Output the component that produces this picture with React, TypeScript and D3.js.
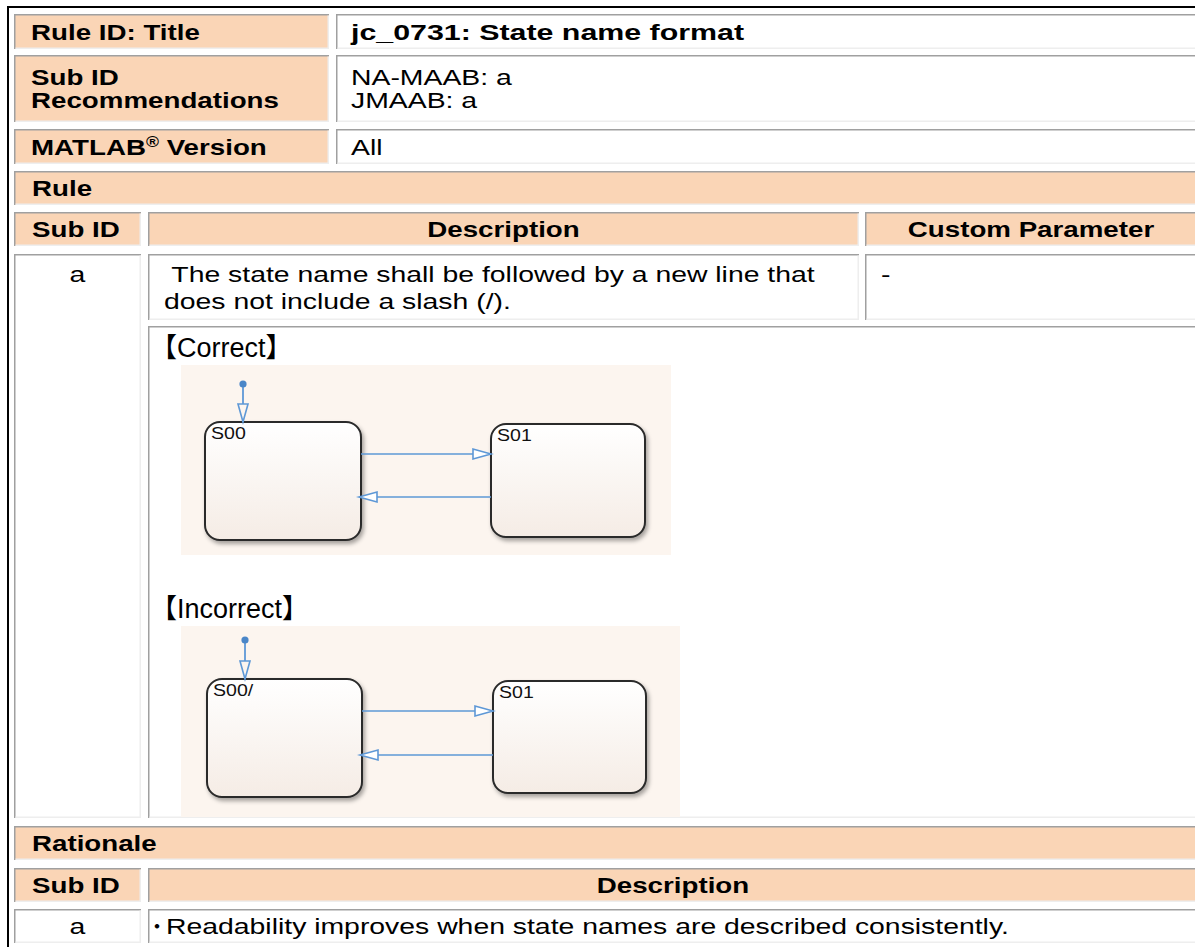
import React from 'react';
import * as d3 from 'd3';

// ---- content ----
const headerLabels: string[][] = [['Rule ID: Title'], ['Sub ID', 'Recommendations'], ['MATLAB® Version']];
const headerValues: string[][] = [['jc_0731: State name format'], ['NA-MAAB: a', 'JMAAB: a'], ['All']];
const sectionTitles = ['Rule', 'Rationale'];
const ruleColumns = ['Sub ID', 'Description', 'Custom Parameter'];
const ruleSubIds = ['a'];
const ruleDescriptions: string[][] = [[' The state name shall be followed by a new line that', 'does not include a slash (/).']];
const ruleParams = ['-'];
const exampleLabels = ['【Correct】', '【Incorrect】'];
const exampleStates: string[][] = [['S00', 'S01'], ['S00/', 'S01']];
const rationaleColumns = ['Sub ID', 'Description'];
const rationaleSubIds = ['a'];
const rationaleBullet = '・';
const rationaleTexts = ['Readability improves when state names are described consistently.'];

// ---- styling ----
const W = 1195;
const H = 947;
const FONT = "'Liberation Sans', Arial, 'Noto Sans CJK JP', sans-serif";
const PEACH = '#fad5b6';
const DARK = '#a0a0a0';
const LIGHT = '#eeeeee';
const BLUE = '#5e98d6';
const DIAG_BG = '#fcf5ef';
const FS = 22;

// column edges of the table (left, right of each cell)
const colSub = [14, 141];
const colDesc = [148, 859];
const colParam = [865, 1200];
const colHeadL = [14, 329];
const colHeadR = [336, 1200];
const full = [14, 1200];

type CellProps = { x0: number; y0: number; x1: number; y1: number; fill?: string };
const Cell = ({ x0, y0, x1, y1, fill = '#fff' }: CellProps) => (
  <g>
    <rect x={x0} y={y0} width={x1 - x0} height={y1 - y0} fill={fill} />
    <path d={`M${x0 + 0.75},${y1} V${y0 + 0.75} H${x1}`} stroke={DARK} strokeWidth={1.5} fill="none" />
    <path d={`M${x0 + 1.5},${y1 - 0.75} H${x1 - 0.75} V${y0 + 1.5}`} stroke={LIGHT} strokeWidth={1.5} fill="none" />
  </g>
);

type TxtProps = {
  x: number; y: number; children: React.ReactNode; bold?: boolean;
  anchor?: string; size?: number; sx?: number; family?: string; fill?: string
};
const Txt = ({ x, y, children, bold = false, anchor = 'start', size = FS, sx, family = FONT, fill = '#000' }: TxtProps) => (
  <text
    transform={`translate(${x},${y}) scale(${sx ?? (bold ? 1.26 : 1.29)},1)`}
    fontFamily={family}
    fontSize={size}
    fontWeight={bold ? 'bold' : 'normal'}
    textAnchor={anchor}
    fill={fill}
    style={{ whiteSpace: 'pre' }}
  >
    {children}
  </text>
);

// renders "®" as a superscript
const withReg = (s: string) => {
  const parts = s.split('®');
  if (parts.length < 2) return s;
  return (
    <>
      {parts[0]}
      <tspan fontSize={14} dy={-8}>®</tspan>
      <tspan dy={8}>{parts[1]}</tspan>
    </>
  );
};

// diagram geometry (relative to its background)
const diagramLayout = [
  { x: 181, y: 365, w: 490, h: 190, boxes: [[24, 57, 156, 118], [310, 59, 154, 113]], dot: [62, 19], arrowY: [89, 132] },
  { x: 181, y: 626, w: 499, h: 191, boxes: [[26, 53, 155, 118], [312, 55, 153, 112]], dot: [64, 14], arrowY: [85, 129] },
];

const line = d3.line<[number, number]>();

const head = (tx: number, ty: number, dir: 'right' | 'left' | 'down') => {
  const L = 18, hw = 5;
  const p = d3.path();
  if (dir === 'right') { p.moveTo(tx, ty); p.lineTo(tx - L, ty - hw); p.lineTo(tx - L, ty + hw); }
  if (dir === 'left') { p.moveTo(tx, ty); p.lineTo(tx + L, ty - hw); p.lineTo(tx + L, ty + hw); }
  if (dir === 'down') { p.moveTo(tx, ty); p.lineTo(tx - hw, ty - L); p.lineTo(tx + hw, ty - L); }
  p.closePath();
  return p.toString();
};

const Diagram = ({ idx }: { idx: number }) => {
  const lay = diagramLayout[idx];
  const names = exampleStates[idx];
  const [b0, b1] = lay.boxes.map(([bx, by, bw, bh]) => ({ x: lay.x + bx, y: lay.y + by, w: bw, h: bh }));
  const dx = lay.x + lay.dot[0];
  const dy = lay.y + lay.dot[1];
  const a1 = lay.y + lay.arrowY[0];
  const a2 = lay.y + lay.arrowY[1];
  return (
    <g>
      <rect x={lay.x} y={lay.y} width={lay.w} height={lay.h} fill={DIAG_BG} />
      {[b0, b1].map((b, i) => (
        <g key={i}>
          <rect x={b.x} y={b.y} width={b.w} height={b.h} rx={15} fill="url(#stateFill)" stroke="#2a2a2a" strokeWidth={2} filter="url(#shadow)" />
          <Txt x={b.x + 6} y={b.y + 17} size={17} sx={1.15} fill="#111">{names[i]}</Txt>
        </g>
      ))}
      {/* initial transition */}
      <path d={line([[dx, dy], [dx, b0.y]]) ?? ''} stroke={BLUE} strokeWidth={1.8} fill="none" />
      <circle cx={dx} cy={dy} r={3.6} fill="#4a86c8" />
      <path d={head(dx, b0.y, 'down')} stroke={BLUE} strokeWidth={1.6} fill={DIAG_BG} />
      {/* S00 -> S01 */}
      <path d={line([[b0.x + b0.w, a1], [b1.x, a1]]) ?? ''} stroke={BLUE} strokeWidth={1.6} fill="none" />
      <path d={head(b1.x, a1, 'right')} stroke={BLUE} strokeWidth={1.6} fill="#fff" />
      {/* S01 -> S00 */}
      <path d={line([[b1.x, a2], [b0.x + b0.w, a2]]) ?? ''} stroke={BLUE} strokeWidth={1.6} fill="none" />
      <path d={head(b0.x + b0.w - 2, a2, 'left')} stroke={BLUE} strokeWidth={1.6} fill="#fff" />
    </g>
  );
};

const App = () => {
  const capHalf = 8;
  const headRows = [[14, 49], [55, 122], [129, 164]];
  const lh = 23;
  const mid = (a: number[]) => (a[0] + a[1]) / 2;

  const lines = (ls: string[], x: number, y0: number, y1: number, bold: boolean, sx?: number) => {
    const c = (y0 + y1) / 2;
    return ls.map((s, i) => (
      <Txt key={i} x={x} y={c + capHalf + (i - (ls.length - 1) / 2) * lh} bold={bold} sx={sx}>
        {withReg(s)}
      </Txt>
    ));
  };

  return (
    <svg width={W} height={H} style={{ position: 'absolute', left: 0, top: 0, background: '#fff' }}>
      <defs>
        <linearGradient id="stateFill" x1="0" y1="0" x2="0" y2="1">
          <stop offset="0" stopColor="#ffffff" />
          <stop offset="1" stopColor="#f5ece5" />
        </linearGradient>
        <filter id="shadow" x="-10%" y="-10%" width="130%" height="130%">
          <feDropShadow dx={2} dy={3} stdDeviation={2} floodColor="#000" floodOpacity={0.35} />
        </filter>
      </defs>

      {/* outer table border */}
      <rect x={7} y={6} width={W} height={2} fill="#000" />
      <rect x={7} y={6} width={2} height={H} fill="#000" />

      {/* header block */}
      {headRows.map((r, i) => (
        <g key={i}>
          <Cell x0={colHeadL[0]} y0={r[0]} x1={colHeadL[1]} y1={r[1]} fill={PEACH} />
          <Cell x0={colHeadR[0]} y0={r[0]} x1={colHeadR[1]} y1={r[1]} />
          {lines(headerLabels[i], colHeadL[0] + 17, r[0], r[1], true)}
          {lines(headerValues[i], colHeadR[0] + 15, r[0], r[1], i === 0, i === 0 ? 1.38 : undefined)}
        </g>
      ))}

      {/* Rule section */}
      <Cell x0={full[0]} y0={171} x1={full[1]} y1={205} fill={PEACH} />
      <Txt x={32} y={188 + capHalf} bold>{sectionTitles[0]}</Txt>

      <Cell x0={colSub[0]} y0={212} x1={colSub[1]} y1={246} fill={PEACH} />
      <Cell x0={colDesc[0]} y0={212} x1={colDesc[1]} y1={246} fill={PEACH} />
      <Cell x0={colParam[0]} y0={212} x1={colParam[1]} y1={246} fill={PEACH} />
      <Txt x={32} y={229 + capHalf} bold>{ruleColumns[0]}</Txt>
      <Txt x={mid(colDesc)} y={229 + capHalf} bold anchor="middle">{ruleColumns[1]}</Txt>
      <Txt x={mid([865, 1197])} y={229 + capHalf} bold anchor="middle">{ruleColumns[2]}</Txt>

      {ruleSubIds.map((id, i) => (
        <g key={id}>
          <Cell x0={colSub[0]} y0={254} x1={colSub[1]} y1={818} />
          <Cell x0={colDesc[0]} y0={254} x1={colDesc[1]} y1={320} />
          <Cell x0={colParam[0]} y0={254} x1={colParam[1]} y1={320} />
          <Txt x={mid(colSub)} y={282} anchor="middle">{id}</Txt>
          {ruleDescriptions[i].map((s, j) => (
            <Txt key={j} x={colDesc[0] + 16} y={282 + j * 27}>{s}</Txt>
          ))}
          <Txt x={colParam[0] + 16} y={282}>{ruleParams[i]}</Txt>
          <Cell x0={colDesc[0]} y0={326} x1={full[1]} y1={818} />
        </g>
      ))}

      {/* examples */}
      <Txt x={150} y={357} size={27} sx={1}>{exampleLabels[0]}</Txt>
      <Txt x={150} y={618} size={27} sx={1}>{exampleLabels[1]}</Txt>
      <Diagram idx={0} />
      <Diagram idx={1} />

      {/* Rationale section */}
      <Cell x0={full[0]} y0={826} x1={full[1]} y1={860} fill={PEACH} />
      <Txt x={32} y={843 + capHalf} bold>{sectionTitles[1]}</Txt>
      <Cell x0={colSub[0]} y0={868} x1={colSub[1]} y1={902} fill={PEACH} />
      <Cell x0={colDesc[0]} y0={868} x1={full[1]} y1={902} fill={PEACH} />
      <Txt x={32} y={885 + capHalf} bold>{rationaleColumns[0]}</Txt>
      <Txt x={mid([148, 1198])} y={885 + capHalf} bold anchor="middle">{rationaleColumns[1]}</Txt>

      {rationaleSubIds.map((id, i) => (
        <g key={id}>
          <Cell x0={colSub[0]} y0={909} x1={colSub[1]} y1={943} />
          <Cell x0={colDesc[0]} y0={909} x1={full[1]} y1={943} />
          <Txt x={mid(colSub)} y={926 + capHalf} anchor="middle">{id}</Txt>
          <Txt x={157} y={926 + capHalf} anchor="middle" sx={1} size={21}>{rationaleBullet}</Txt>
          <Txt x={166} y={926 + capHalf}>{rationaleTexts[i]}</Txt>
        </g>
      ))}
    </svg>
  );
};

export default App;
